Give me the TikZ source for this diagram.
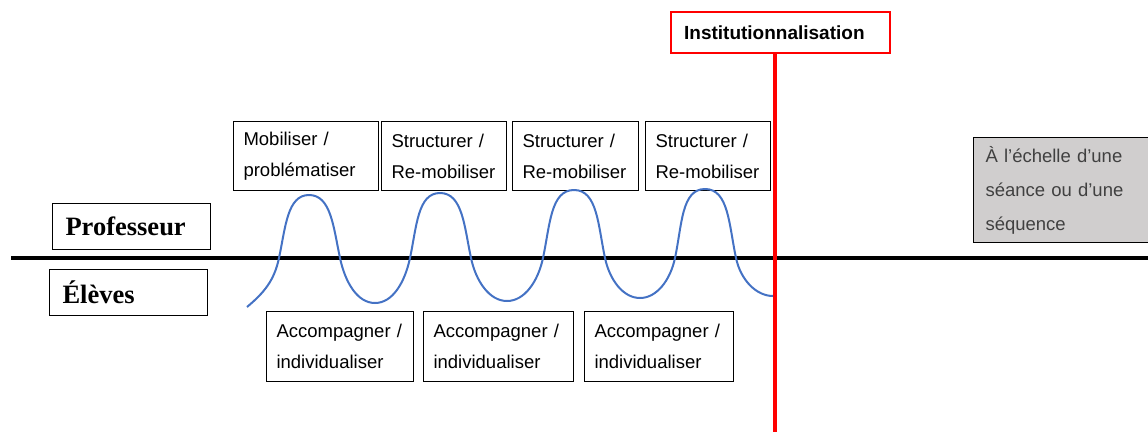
\documentclass[tikz,border=0pt]{standalone}
\usepackage{fontspec}
\setmainfont{Liberation Serif}
\setsansfont{Liberation Sans}
\definecolor{bleuvague}{RGB}{68,114,196}
\definecolor{grisfond}{RGB}{208,206,206}
\definecolor{gristexte}{RGB}{64,64,64}
\tikzset{
  boite/.style={draw, line width=1.1pt, anchor=north west, align=left, inner xsep=10pt, inner ysep=0pt,
    font=\sffamily\fontsize{18.5}{31}\selectfont},
  role/.style={draw, line width=1.1pt, anchor=north west, align=left, inner xsep=13pt, inner ysep=0pt,
    text width=132pt, minimum height=46pt, font=\rmfamily\bfseries\fontsize{26.5}{30}\selectfont},
  vague/.style={draw=bleuvague, line width=2pt},
  monte/.style={out=78, in=180, out looseness=1.15, in looseness=0.8},
  redescend/.style={out=0, in=102, out looseness=0.8, in looseness=1.15},
  creux/.style={out=-78, in=180, out looseness=1.1, in looseness=0.8},
  remonte/.style={out=0, in=-102, out looseness=0.8, in looseness=1.1},
}
\begin{document}
\begin{tikzpicture}[x=1pt,y=-1pt]
            \useasboundingbox (0,0) rectangle (1148,432);
            \coordinate (gauche) at (11,258);
            \coordinate (droite) at (1148,258);
            \coordinate (bas) at (775,432);
            \draw[line width=4pt] (gauche) -- (droite);
            \node[role] (prof) at (52,203) {Professeur};
            \node[role] (eleves) at (49,269) {Élèves};
            \foreach \x/\w/\txt [count=\i] in {233/145/{Mobiliser /\\problématiser},381/125/{Structurer /\\Re-mobiliser},512/126/{Structurer /\\Re-mobiliser},645/125/{Structurer /\\Re-mobiliser}}{
                \pgfmathsetmacro\tw{\w-20}
                \node[boite, text width=\tw pt, minimum height=69pt] (P-\i) at (\x,121) {\txt};
            }
            \foreach \x/\w [count=\i] in {266/147,423/150,584/149}{
                \pgfmathsetmacro\tw{\w-20}
                \node[boite, text width=\tw pt, minimum height=70pt] (E-\i) at (\x,311) {Accompagner /\\individualiser};
            }
            \node[boite, fill=grisfond, text=gristexte, inner xsep=12pt, text width=160pt, minimum height=105pt,
                font=\sffamily\fontsize{18.5}{34}\selectfont] (echelle) at (973,137) {À l’échelle d’une\\séance ou d’une\\séquence};
            % sommets et creux de la vague
            \draw[vague] (247,307) to[out=40,in=-102] (279,258) to[monte] (309,195)
                to[redescend] (340,258) to[creux] (375,303) to[remonte] (410,258)
                to[monte] (440,193) to[redescend] (471,258) to[creux] (507,301)
                to[remonte] (543,258) to[monte] (574,190) to[redescend] (605,258)
                to[creux] (640,298) to[remonte] (675,258) to[monte] (705,189)
                to[redescend] (736,258) to[creux] (773,296);
            \node[draw=red, line width=2.2pt, anchor=north west, align=left, inner xsep=13pt, text width=193pt,
                minimum height=41pt, font=\sffamily\bfseries\fontsize{19}{22}\selectfont] (inst) at (670,11) {Institutionnalisation};
            \draw[red, line width=3.5pt] (inst.south -| bas) -- (bas);
        \end{tikzpicture}
\end{document}
